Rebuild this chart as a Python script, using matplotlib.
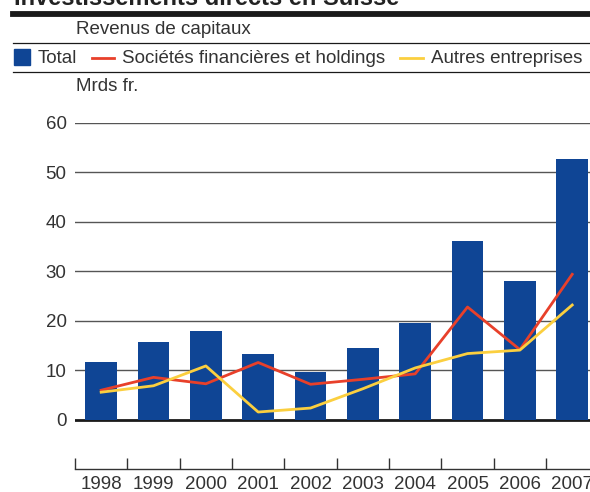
import matplotlib
matplotlib.use("Agg")

import matplotlib.pyplot as plt
from matplotlib.lines import Line2D
from matplotlib.patches import Rectangle

plt.rcParams["font.family"] = ["Liberation Sans", "DejaVu Sans"]

# données (Mrds fr.)
years = ["1998", "1999", "2000", "2001", "2002", "2003", "2004", "2005", "2006", "2007"]
total = [11.7, 15.7, 18.0, 13.3, 9.7, 14.5, 19.5, 36.1, 28.0, 52.6]
financieres = [6.0, 8.6, 7.3, 11.6, 7.2, 8.2, 9.3, 22.8, 14.2, 29.4]
autres = [5.6, 6.9, 10.9, 1.6, 2.4, 6.3, 10.5, 13.4, 14.1, 23.2]
yticks = [0, 10, 20, 30, 40, 50, 60]

BLUE = "#0f4595"
RED = "#e8402a"
YELLOW = "#fbcf3f"
TXT = "#333333"

W, H = 590, 492
fig = plt.figure(figsize=(W / 100, H / 100), dpi=100)


def fx(px):
    return px / W


def fy(py):
    return 1 - py / H


# en-tête (titre coupé en haut)
fig.text(fx(14), fy(5), "Investissements directs en Suisse", fontsize=17,
         fontweight="bold", color="#222222", va="baseline")
fig.add_artist(Line2D([fx(13), 1], [fy(14), fy(14)], color="#1a1a1a", lw=4.2))
fig.text(fx(76), fy(30), "Revenus de capitaux", fontsize=13.5, color=TXT, va="center")
fig.add_artist(Line2D([fx(13), 1], [fy(43.3), fy(43.3)], color="#1a1a1a", lw=0.9))

# légende
fig.add_artist(Rectangle((fx(14), fy(65)), fx(16), 16 / H, color=BLUE))
fig.text(fx(38), fy(58.5), "Total", fontsize=13.5, color=TXT, va="center")
fig.add_artist(Line2D([fx(92), fx(114)], [fy(58), fy(58)], color=RED, lw=2))
fig.text(fx(122), fy(58.5), "Sociétés financières et holdings", fontsize=13.5,
         color=TXT, va="center")
fig.add_artist(Line2D([fx(400), fx(423)], [fy(58), fy(58)], color=YELLOW, lw=2))
fig.text(fx(431), fy(58.5), "Autres entreprises", fontsize=13.5, color=TXT, va="center")
fig.add_artist(Line2D([fx(13), 1], [fy(72.3), fy(72.3)], color="#1a1a1a", lw=0.9))
fig.text(fx(76), fy(86.7), "Mrds fr.", fontsize=13.5, color=TXT, va="center")

# graphique
ax = fig.add_axes([fx(75), fy(469), fx(590 - 75), (469 - 122.7) / H])
x = list(range(len(years)))

for v in yticks:
    ax.axhline(v, color="#1a1a1a" if v == 0 else "#555555",
               lw=2 if v == 0 else 1, zorder=1)

ax.bar(x, total, width=0.61, color=BLUE, zorder=2)
ax.plot(x, financieres, color=RED, lw=2, zorder=3)
ax.plot(x, autres, color=YELLOW, lw=2, zorder=3)

ax.set_xlim(-0.5, 9.34)
ax.set_ylim(-9.9, 60)

for s in ["top", "right", "left"]:
    ax.spines[s].set_visible(False)
ax.spines["bottom"].set_color("#333333")
ax.spines["bottom"].set_linewidth(1)

ax.set_yticks(yticks)
ax.set_yticklabels([str(v) for v in yticks])
ax.tick_params(axis="y", length=0, pad=6, labelsize=13.5, labelcolor=TXT)

ax.set_xticks(x)
ax.set_xticklabels(years)
ax.set_xticks([i - 0.5 for i in x], minor=True)
ax.tick_params(axis="x", which="major", length=0, pad=5, labelsize=13.5, labelcolor=TXT)
ax.tick_params(axis="x", which="minor", direction="in", length=8, width=1, color="#333333")

fig.savefig("out.png", dpi=100, facecolor="white")
